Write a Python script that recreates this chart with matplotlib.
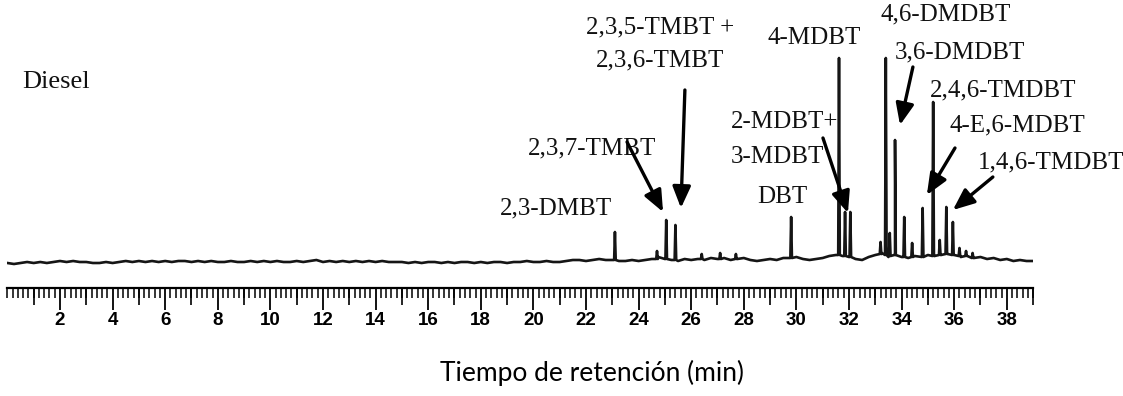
import numpy as np
import matplotlib
matplotlib.use("Agg")
import matplotlib.pyplot as plt
from matplotlib.ticker import MultipleLocator

# baseline of the diesel chromatogram, read every 0.25 min (detector units)
base_step = 0.25
base_v = [0, -1, 0, 1, 0, 1, 0, 1, 2, 1, 2, 1, 1, 0, 0, 1,
          0, 1, 2, 1, 2, 1, 2, 1, 2, 1, 2, 2, 1, 2, 1, 2,
          1, 1, 2, 1, 1, 2, 1, 2, 1, 2, 1, 1, 2, 1, 2, 3,
          1, 2, 1, 2, 1, 2, 1, 2, 1, 2, 1, 1,
          1, 0, 1, 0, 1, 1, 0, 1, 0, 1, 1, 0, 1, 0, 1, 1,
          0, 1, 1, 2, 1, 1, 2, 1, 1, 2, 3, 3, 2, 3, 4, 3,
          3, 2, 2, 3, 2, 3, 4, 6, 4, 3, 2, 4, 3, 4, 3, 5,
          4, 5, 3, 4, 5, 3, 2, 3, 4, 3, 5, 5, 6, 4, 3, 4,
          5, 7, 8, 7, 6, 4, 3, 6, 8, 10, 6, 8, 6, 5, 7, 6,
          8, 7, 8, 9, 8, 6, 7, 5, 6, 4, 5, 3, 4, 2, 3, 2, 2]

# peaks: retention time (min), apex and foot level
peak_t = [23.1, 24.7, 25.05, 25.4, 26.4, 27.1, 27.7, 29.8, 31.62, 31.85,
          32.05, 33.2, 33.4, 33.55, 33.75, 34.1, 34.4, 34.8, 35.2, 35.45,
          35.7, 35.95, 36.2, 36.45, 36.7]
peak_top = [31, 12, 43, 38, 9, 10, 9, 46, 205, 51,
            51, 21, 205, 30, 123, 46, 20, 55, 161, 23,
            56, 41, 15, 12, 10]
peak_base = [3, 4, 4, 3, 4, 4, 4, 5, 8, 7,
             6, 9, 8, 7, 8, 6, 6, 6, 7, 8,
             9, 8, 7, 7, 5]

major_ticks = list(range(2, 39, 2))
odd_ticks = list(range(1, 40, 2))

half_w = 0.03
base_t = np.arange(len(base_v)) * base_step
pts = list(zip(base_t, base_v))
for t, top, b in zip(peak_t, peak_top, peak_base):
    pts += [(t - half_w, b), (t, top), (t + half_w, b)]
pts.sort()
trace_t, trace_v = zip(*pts)

fig = plt.figure(figsize=(11.23, 3.96), dpi=100)
ax = fig.add_axes([7.4 / 1123, 108 / 396, 1025.7 / 1123, 288 / 396])
ax.plot(trace_t, trace_v, color="#151515", lw=1.9, solid_joinstyle="round")
ax.set_xlim(0, 39)
ax.set_ylim(-25, 263)

for s in ["top", "left", "right"]:
    ax.spines[s].set_visible(False)
ax.spines["bottom"].set_linewidth(1.6)
ax.set_yticks([])

tick_font = dict(family="Liberation Sans", weight="bold", size=13.5)
ax.xaxis.set_major_locator(MultipleLocator(2))
ax.xaxis.set_minor_locator(MultipleLocator(0.2))
ax.set_xticks(major_ticks)
ax.set_xticklabels([str(v) for v in major_ticks], fontdict=tick_font)
ax.tick_params(axis="x", which="major", direction="out", length=16, width=1.3, pad=1)
ax.tick_params(axis="x", which="minor", direction="out", length=7.5, width=1.1)

sec = ax.secondary_xaxis("bottom")
sec.spines["bottom"].set_visible(False)
sec.set_xticks(odd_ticks)
sec.set_xticklabels([])
sec.tick_params(axis="x", direction="out", length=12, width=1.2)

serif = dict(family="Liberation Serif", color="#111111")
ax.text(0.55, 181, "Diesel", fontsize=19, ha="left", va="center", **serif)

labels = [
    (18.73, 55, "2,3-DMBT"),
    (19.8, 115, "2,3,7-TMBT"),
    (22.0, 236, "2,3,5-TMBT +"),
    (22.38, 203, "2,3,6-TMBT"),
    (28.5, 66, "DBT"),
    (28.92, 225, "4-MDBT"),
    (27.51, 141, "2-MDBT+"),
    (27.51, 106, "3-MDBT"),
    (33.18, 249, "4,6-DMDBT"),
    (33.75, 211, "3,6-DMDBT"),
    (35.08, 173, "2,4,6-TMDBT"),
    (35.84, 138, "4-E,6-MDBT"),
    (36.9, 101, "1,4,6-TMDBT"),
]
for x, y, s in labels:
    ax.text(x, y, s, fontsize=18, ha="left", va="center", **serif)

arrows = [
    ((23.56, 121), (24.93, 51)),
    ((25.76, 173), (25.61, 55)),
    ((31.01, 125), (31.96, 50)),
    ((34.43, 196), (33.94, 138)),
    ((36.03, 115), (34.96, 68)),
    ((37.47, 86), (35.95, 53)),
]
for tail, head in arrows:
    ax.annotate("", xy=head, xytext=tail,
                arrowprops=dict(arrowstyle="-|>,head_length=1.3,head_width=0.55",
                                color="black", lw=2.4, shrinkA=0, shrinkB=0))

fig.text(592 / 1123, 1 - 373 / 396, "Tiempo de retención (min)",
         family="Lato", fontsize=19, ha="center", va="center")

fig.savefig("out.png", dpi=100)
